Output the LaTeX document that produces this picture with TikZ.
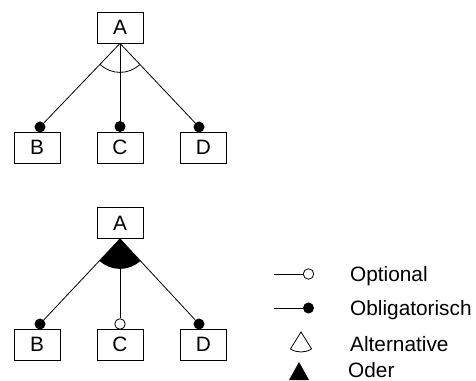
\documentclass[tikz,border=0pt]{standalone}
\usepackage{fontspec}
\setmainfont{Liberation Sans}
\begin{document}
\begin{tikzpicture}[x=1pt,y=1pt,
  feature/.style={draw, line width=0.8pt, minimum width=46pt, minimum height=31pt,
                  inner sep=0pt, font=\fontsize{20.8}{24}\selectfont},
  edge/.style={line width=0.8pt},
  mand/.style={circle, fill=black, inner sep=0pt, minimum size=11pt},
  opt/.style={circle, draw, fill=white, line width=0.8pt, inner sep=0pt, minimum size=10.5pt},
  legendtext/.style={anchor=base west, inner sep=0pt, font=\fontsize{20.8}{24}\selectfont}]
\useasboundingbox (0,0) rectangle (476,380);

% ---- upper tree: alternative group ----
\node[feature] (A1) at (120,352.5) {A};
\node[feature] (B1) at (37,232.5) {B};
\node[feature] (C1) at (120,232.5) {C};
\node[feature] (D1) at (203.5,232.5) {D};
\node[mand] (mB1) at (40,253) {};
\node[mand] (mC1) at (120,253.5) {};
\node[mand] (mD1) at (199,253) {};
\draw[edge] (A1.south) -- (mB1);
\draw[edge] (A1.south) -- (mC1);
\draw[edge] (A1.south) -- (mD1);
\draw[edge] (A1.south) ++(226.4:29) arc[start angle=226.4, end angle=313.2, radius=29];

% ---- lower tree: or group ----
\node[feature] (A2) at (120,157) {A};
\node[feature] (B2) at (37,35.5) {B};
\node[feature] (C2) at (120,35.5) {C};
\node[feature] (D2) at (203.5,35.5) {D};
\node[mand] (mB2) at (40,56) {};
\node[opt]  (oC2) at (120,56) {};
\node[mand] (mD2) at (199,56) {};
\draw[edge] (A2.south) -- (mB2);
\draw[edge] (A2.south) -- (oC2);
\draw[edge] (A2.south) -- (mD2);
\fill (A2.south) -- ++(227.1:30) arc[start angle=227.1, end angle=312.6, radius=30] -- cycle;

% ---- legend ----
\coordinate (lo) at (274,106);
\node[opt] (co) at (308.5,106) {};
\draw[edge] (lo) -- (co);
\node[legendtext] (to) at (350,98) {Optional};

\coordinate (lm) at (274,72);
\node[mand] (cm) at (308.5,72) {};
\draw[edge] (lm) -- (cm);
\node[legendtext] (tm) at (350,64) {Obligatorisch};

\coordinate (alt) at (301,48);
\draw[edge] (alt) -- ++(238:20) arc[start angle=238, end angle=302, radius=20] -- cycle;
\node[legendtext] (ta) at (350,29) {Alternative};

\coordinate (oder) at (299,18);
\fill (oder) -- (289,0) -- (309,0) -- cycle;
\node[legendtext] (tr) at (348,3) {Oder};
\end{tikzpicture}
\end{document}
